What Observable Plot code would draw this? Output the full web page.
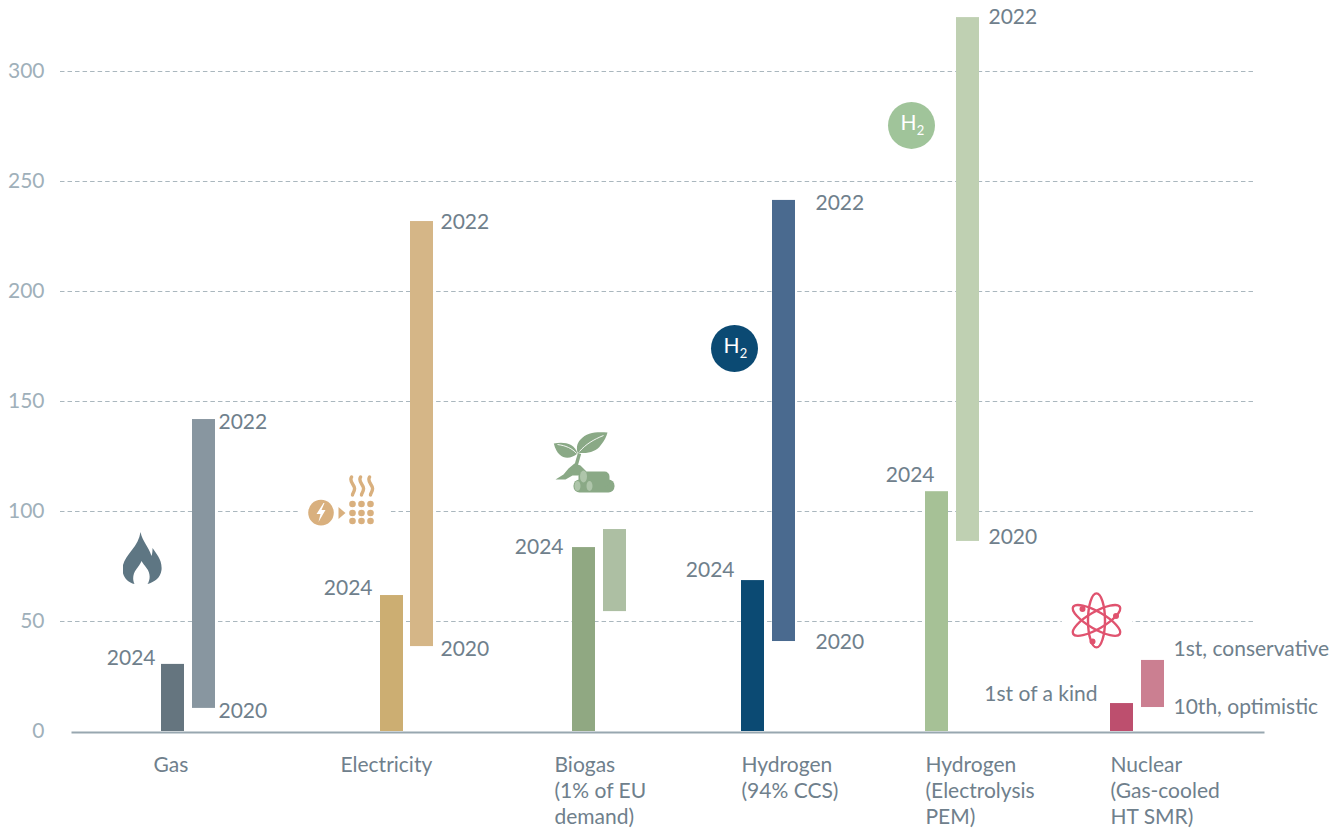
<!DOCTYPE html>
<html>
<head>
<meta charset="utf-8">
<script src="https://cdn.jsdelivr.net/npm/d3@7"></script>
<script src="https://cdn.jsdelivr.net/npm/@observablehq/plot@0.6"></script>
<style>
html,body{margin:0;padding:0;background:#fff;overflow:hidden}
svg{display:block}
</style>
</head>
<body>
<div id="chart"></div>
<script>
// ---- values ----
const categories = ["Gas", "Electricity", "Biogas\n(1% of EU\ndemand)", "Hydrogen\n(94% CCS)", "Hydrogen\n(Electrolysis\nPEM)", "Nuclear\n(Gas-cooled\nHT SMR)"];
const latest2024 = [30.5, 61.8, 83.6, 68.6, 109, 12.7];
const rangeLow   = [10.5, 38.6, 54.5, 40.9, 86.4, 10.9];
const rangeHigh  = [141.8, 231.8, 91.8, 241.4, 324.5, 32.3];
const yTicks = [0, 50, 100, 150, 200, 250, 300];

const labelText  = ["2024","2022","2020","2024","2022","2020","2024","2024","2022","2020","2024","2022","2020","1st of a kind","1st, conservative","10th, optimistic"];
const labelGroup = [0,0,0,1,1,1,2,3,3,3,4,4,4,5,5,5];
const labelAt    = [33.2,140.5,9.1,65,231.4,37.3,83.6,73.2,240,40.5,116.4,324.5,88.2,16.8,37.3,10.9];

// ---- styles / layout (not data) ----
const solidColors = ["#65757f","#ccae72","#90a882","#0b4a73","#a6c196","#bd4f6e"];
const lightColors = ["#8896a0","#d5b687","#adbfa3","#4a6a8f","#bfd0b2","#cb7f91"];
const groupCentres = [188,407,599,768,952,1137];
const rightBarDx = [15.5,14.5,15.5,15.5,15.5,15.5];
const categoryDx = [-35,-67,-45,-27,-27,-27];
const labelAnchor = ["end","start","start","end","start","start","end","end","start","start","end","start","start","end","start","start"];
const labelDx = [-33,30,30,-35,33,33,-36,-34,47,47,-18,36,36,-40,36,36];
const textColor = "#6f808c", tickColor = "#9fb0ba", font = "Lato";

const uri = s => "data:image/svg+xml," + encodeURIComponent(s);
const flame = `<svg xmlns="http://www.w3.org/2000/svg" width="40" height="53" viewBox="0 0 40 53"><path fill="#5e7683" d="M18 0C20 10 26 14 29 24C30 21 30 18 30 16C34 22 40 28 39 38C38 46 32 50 25 52C28 47 28 41 24 36C22 33 20 31 19 29C18 32 16 34 14 37C10 42 10 48 12 52C5 50 0 45 0 37C0 24 16 16 18 0Z"/></svg>`;
const wave = x => `<path d="M${x-1} 2C${x-4} 7 ${x+3} 10 ${x+2} 14C${x+2} 17 ${x} 18 ${x} 20" fill="none" stroke="#d9b07e" stroke-width="3.4" stroke-linecap="round"/>`;
const dots = [53,62,71].flatMap(x => [29,38,46].map(y => `<circle cx="${x}" cy="${y}" r="3.3"/>`)).join("");
const power = `<svg xmlns="http://www.w3.org/2000/svg" width="90" height="54" viewBox="0 0 90 54"><rect width="90" height="54" fill="#fff"/><g fill="#d9b07e"><circle cx="21.5" cy="37.6" r="12.8"/><path d="M39 32L46 38L39 44Z"/>${dots}</g><path fill="#fff" d="M24 28L17 39L21 39L19 47L26 35L22 35L25 28Z"/>${wave(53)}${wave(62)}${wave(71)}</svg>`;
const plant = `<svg xmlns="http://www.w3.org/2000/svg" width="68" height="67" viewBox="0 0 68 67"><g fill="#8aa986"><path d="M3.3 15C12 13 24 14 27 25C20 31 8 33 3.3 15Z"/><path d="M57 4C46 3 36 4 30 11C26 15 26 20 27 24C36 26 46 23 50 17C54 12 56 8 57 4Z"/><path d="M5 51L13 46L18 40L24 35L30 37L36 43L30 47L22 47L15 51Z"/><rect x="23" y="51" width="41" height="13" rx="6"/><rect x="28" y="43" width="31" height="15" rx="5"/></g><path d="M29 25L25 39" stroke="#8aa986" stroke-width="3.4" fill="none"/><path d="M7 16C15 17 22 20 26 25M53 7C43 11 35 16 29 23" stroke="#fff" stroke-width="0.9" fill="none"/><g fill="#aec5aa"><ellipse cx="33" cy="48" rx="3.5" ry="6"/><ellipse cx="27" cy="57.5" rx="3" ry="5"/><ellipse cx="39" cy="57.5" rx="3" ry="5"/></g></svg>`;
const orbit = a => `<ellipse cx="35" cy="30" rx="8.5" ry="27" transform="rotate(${a} 35 30)" fill="none" stroke="#e0536f" stroke-width="2.4"/>`;
const atom = `<svg xmlns="http://www.w3.org/2000/svg" width="71" height="60" viewBox="0 0 71 60"><rect width="71" height="60" fill="#fff"/>${orbit(0)}${orbit(60)}${orbit(-60)}<g fill="#e0536f"><circle cx="21" cy="18.5" r="3"/><circle cx="54.5" cy="25.5" r="3"/><circle cx="31" cy="51" r="3"/></g></svg>`;

const slot = categories.map((_, i) => i);
const bar = (i, y1, y2, fill, dx) => Plot.rect([i], {x1: d => d, x2: d => d, y1: () => y1, y2: () => y2, fill, dx, insetLeft: -11.5, insetRight: -11.5});
const icon = (group, level, svg, w, h, dx) => Plot.image([group], {x: d => d, y: () => level, src: uri(svg), width: w, height: h, dx});
const h2 = (group, level, fill, dx) => [
  Plot.dot([group], {x: d => d, y: () => level, r: 23.5, fill, stroke: null, dx}),
  Plot.text([group], {x: d => d, y: () => level, text: () => "H", fill: "#fff", fontSize: 21, fontFamily: font, dx: dx - 3, dy: -2}),
  Plot.text([group], {x: d => d, y: () => level, text: () => "2", fill: "#fff", fontSize: 13, fontFamily: font, dx: dx + 9, dy: 5})
];

const chart = Plot.plot({
  width: 1344, height: 830,
  marginLeft: 60, marginRight: 91, marginTop: 0, marginBottom: 0,
  style: {background: "#fff", fontFamily: font, overflow: "visible"},
  x: {type: "linear", domain: slot, range: groupCentres, axis: null},
  y: {type: "linear", domain: [0, 300], range: [731, 71], axis: null},
  marks: [
    Plot.ruleY(yTicks.slice(1), {stroke: "#aab7be", strokeWidth: 1, strokeDasharray: "4.5,3.022"}),
    Plot.axisY({ticks: yTicks, tickSize: 0, tickPadding: 16, fontSize: 21, fill: tickColor, color: tickColor, fontFamily: font, label: null, marginLeft: 60, fontVariant: "normal"}),
    ...slot.map(i => bar(i, rangeLow[i], rangeHigh[i], lightColors[i], rightBarDx[i])),
    ...slot.map(i => bar(i, 0, latest2024[i], solidColors[i], -15.5)),
    Plot.ruleY([0], {stroke: "#98a7b0", strokeWidth: 2, dx: 11.5, dy: 1}),
    ...labelText.map((t, i) => Plot.text([i], {
      x: () => labelGroup[i], y: () => labelAt[i], text: () => t,
      textAnchor: labelAnchor[i], dx: labelDx[i], fontSize: 21, fontFamily: font, fill: textColor, fontVariant: "normal"
    })),
    ...categories.map((t, i) => Plot.text([i], {
      x: d => d, y: () => 0, text: () => t, textAnchor: "start", lineAnchor: "top",
      lineHeight: 1.24, dx: categoryDx[i], dy: 22, fontSize: 21, fontFamily: font, fill: textColor
    })),
    icon(0, 78.6, flame, 40, 53, -46),
    icon(1, 104.3, power, 90, 54, -63),
    icon(2, 122.5, plant, 68, 67, -15),
    icon(5, 50.5, atom, 71, 60, -40.5),
    ...h2(3, 174.1, "#0b4a73", -34),
    ...h2(4, 275.5, "#a0c49a", -41)
  ]
});
document.getElementById("chart").append(chart);
</script>
</body>
</html>
